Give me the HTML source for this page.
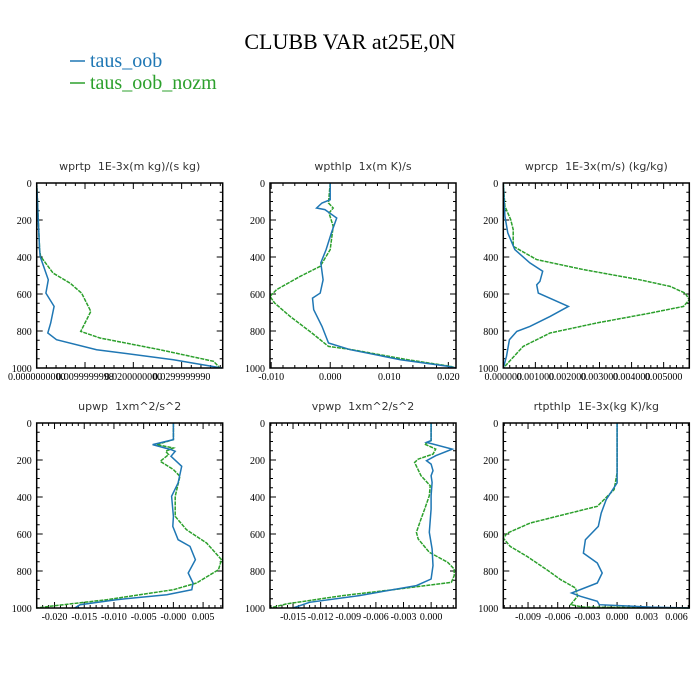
<!DOCTYPE html>
<html><head><meta charset="utf-8"><style>
body{margin:0;background:#fff;}
svg{display:block;}
text{font-family:"Liberation Serif",serif;}
.pt{font-family:"DejaVu Sans",sans-serif;font-size:11px;fill:#333;}
</style></head><body>
<svg id="chart" width="700" height="700" viewBox="0 0 700 700" xmlns="http://www.w3.org/2000/svg">
<rect width="700" height="700" fill="#fff"/>
<text x="350" y="49" font-size="22" text-anchor="middle" fill="#000">CLUBB VAR at25E,0N</text>
<g>
<line x1="70" y1="61" x2="85" y2="61" stroke="#1f77b4" stroke-width="1.5"/>
<text x="90" y="67" font-size="20" fill="#1f77b4">taus_oob</text>
<line x1="70" y1="83" x2="85" y2="83" stroke="#2ca02c" stroke-width="1.5"/>
<text x="90" y="89" font-size="20" fill="#2ca02c">taus_oob_nozm</text>
</g>
</svg>
<script>
// Panel titles
const titles = ["wprtp  1E-3x(m kg)/(s kg)","wpthlp  1x(m K)/s","wprcp  1E-3x(m/s) (kg/kg)","upwp  1xm^2/s^2","vpwp  1xm^2/s^2","rtpthlp  1E-3x(kg K)/kg"];
const xDomains = [[0,0.0385],[-0.0102,0.0213],[0,0.0058],[-0.023,0.0083],[-0.0175,0.0027],[-0.0115,0.0073]];
const xTickVals = [[0,0.01,0.02,0.03],[-0.01,0,0.01,0.02],[0,0.001,0.002,0.003,0.004,0.005],[-0.02,-0.015,-0.01,-0.005,0,0.005],[-0.015,-0.012,-0.009,-0.006,-0.003,0],[-0.009,-0.006,-0.003,0,0.003,0.006]];
const xTickLabels = [["0.0000000000","0.0099999998","0.0200000000","0.0299999990"],["-0.010","0.000","0.010","0.020"],["0.000000","0.001000","0.002000","0.003000","0.004000","0.005000"],["-0.020","-0.015","-0.010","-0.005","-0.000","0.005"],["-0.015","-0.012","-0.009","-0.006","-0.003","0.000"],["-0.009","-0.006","-0.003","0.000","0.003","0.006"]];
const yTickVals = [0,200,400,600,800,1000];
// Series: pressure levels and values
const p1b = [0,180,360,396,523,595,667,757,811,847,901,955,1000];
const v1b = [0,0.0003,0.0006,0.0007,0.0024,0.0019,0.0036,0.0029,0.0023,0.0041,0.0124,0.0283,0.0383];
const p1g = [0,360,396,487,541,595,694,757,802,838,901,964,991,1000];
const v1g = [0,0.0006,0.0008,0.0034,0.0069,0.0093,0.0112,0.0100,0.0091,0.0131,0.0255,0.0366,0.0376,0.0378];
const p2b = [0,90,108,135,144,189,270,360,432,523,595,622,685,775,865,901,955,991,1000];
const v2b = [0,0,-0.0014,-0.0023,-0.0009,0.0011,0.0002,-0.0007,-0.0016,-0.0012,-0.0017,-0.003,-0.0028,-0.0014,-0.0003,0.0034,0.0119,0.0199,0.0213];
const p2g = [0,108,135,162,234,360,450,505,577,613,649,721,811,883,901,955,991,1000];
const v2g = [0,-0.0003,0.0005,-0.0002,0.0005,0,-0.0017,-0.0051,-0.0091,-0.0102,-0.0094,-0.0068,-0.0031,-0.0003,0.0037,0.0131,0.0204,0.0213];
const p3b = [0,180,270,360,432,477,532,550,595,667,721,775,802,847,937,1000];
const v3b = [0,0.00005,0.00014,0.00036,0.00083,0.00123,0.00114,0.00104,0.00109,0.00203,0.00146,0.00083,0.00042,0.00019,0.0001,0];
const p3g = [0,126,198,252,342,414,468,523,559,595,631,667,703,757,811,883,1000];
const v3g = [0,0.00005,0.00023,0.00031,0.00031,0.00104,0.0025,0.00426,0.0052,0.00567,0.0058,0.00562,0.00458,0.00291,0.00146,0.00062,0];
const p4b = [0,90,117,144,153,180,234,324,396,505,559,631,667,739,811,865,901,928,955,982,1000];
const v4b = [0,0,-0.0035,-0.0004,0.0003,-0.0004,0.0014,0.0008,-0.0003,0,-0.0001,0.0008,0.0028,0.0037,0.0025,0.0033,0.0031,-0.0011,-0.0096,-0.0157,-0.0166];
const p4g = [0,90,117,135,153,171,207,252,288,396,505,577,649,739,793,865,901,955,991,1000];
const v4g = [0,0,-0.0028,0,-0.0013,-0.0008,-0.0022,0,0.0011,0.0003,0.0003,0.0022,0.0056,0.0081,0.0076,0.0039,0,-0.0112,-0.0208,-0.023];
const p5b = [0,95,105,141,177,204,222,258,285,321,393,465,591,681,771,843,879,933,969,1000];
const v5b = [0,0,-0.0005,0.0023,0.0005,-0.0005,0,0.0002,0,0.0001,0,0,-0.0002,0.0001,0.0002,0,-0.0016,-0.0078,-0.0132,-0.015];
const p5g = [0,95,114,141,168,195,213,285,339,393,465,519,591,627,699,753,789,825,861,897,933,978,1000];
const v5g = [0,0,-0.0007,0.0005,0.0002,-0.0014,-0.0018,-0.0011,-0.0001,-0.0002,-0.0007,-0.0011,-0.0016,-0.0014,-0.0002,0.0018,0.0025,0.0025,0.0022,-0.0034,-0.0096,-0.0157,-0.0175];
const p6b = [0,324,414,487,559,631,703,757,811,865,919,937,964,982,995,1000];
const v6b = [0,0,-0.0011,-0.0016,-0.0019,-0.0032,-0.0034,-0.002,-0.0015,-0.002,-0.0046,-0.0037,-0.002,-0.0018,0.0034,0.0073];
const p6g = [0,270,360,450,505,541,595,622,667,721,793,847,892,937,982,995,1000];
const v6g = [0,0,-0.0003,-0.002,-0.0061,-0.0088,-0.0111,-0.0115,-0.0108,-0.0091,-0.0071,-0.0057,-0.0042,-0.004,-0.0047,-0.0034,0.0073];
const blueP=[p1b,p2b,p3b,p4b,p5b,p6b], blueV=[v1b,v2b,v3b,v4b,v5b,v6b];
const greenP=[p1g,p2g,p3g,p4g,p5g,p6g], greenV=[v1g,v2g,v3g,v4g,v5g,v6g];

const svg=document.getElementById('chart');
const NS='http://www.w3.org/2000/svg';
const boxX=[36.7,270,503.3], boxY=[183,423], W=186, H=185;
function mk(tag,attrs,parent){const e=document.createElementNS(NS,tag);for(const k in attrs)e.setAttribute(k,attrs[k]);parent.appendChild(e);return e;}
for(let i=0;i<6;i++){
  const x0=boxX[i%3], y0=boxY[Math.floor(i/3)];
  const dom=xDomains[i];
  const sx=v=>x0+(v-dom[0])/(dom[1]-dom[0])*W;
  const sy=p=>y0+p/1000*H;
  const g=mk('g',{},svg);
  
  
  const t=mk('text',{x:x0+W/2,y:y0-13,'text-anchor':'middle','class':'pt'},g);
  
  
  t.textContent=titles[i].replace('  ','\u00a0\u00a0');
  // ticks
  let d='';
  for(let p=0;p<=1000;p+=50){const maj=p%200===0;const L=maj?6:3;const y=sy(p);d+=`M${x0},${y}h${L}M${x0+W},${y}h${-L}`;}
  const tv=xTickVals[i];const step=tv[1]-tv[0];
  for(let k=-2;k<tv.length+2;k++){
    for(let m=0;m<5;m++){
      const v=tv[0]+(k+m/5)*step; if(v<dom[0]-1e-12||v>dom[1]+1e-12)continue;
      const x=sx(v);const L=m===0?6:3;d+=`M${x},${y0}v${L}M${x},${y0+H}v${-L}`;
    }
  }
  const tk=mk('path',{d:d,stroke:'#000','stroke-width':1,fill:'none'},g);
  
  
  yTickVals.forEach(p=>{const e=mk('text',{x:x0-5,y:sy(p)+4,'font-size':10,'text-anchor':'end'},g);
    
    
    e.textContent=p;});
  tv.forEach((v,j)=>{const e=mk('text',{x:sx(v),y:y0+H+12,'font-size':10,'text-anchor':'middle'},g);
    
    
    e.textContent=xTickLabels[i][j];});
  const mkLine=(P,V,col,dash,name)=>{
    const pts=P.map((p,j)=>sx(V[j]).toFixed(1)+','+sy(p).toFixed(1)).join(' ');
    const l=mk('polyline',{points:pts,fill:'none',stroke:col,'stroke-width':1.5},g);
    if(dash)l.setAttribute('stroke-dasharray','4,1');
    
    
  };
  mkLine(greenP[i],greenV[i],'#2ca02c',true,'series-taus-oob-nozm');
  mkLine(blueP[i],blueV[i],'#1f77b4',false,'series-taus-oob');
  const b=mk('rect',{x:x0,y:y0,width:W,height:H,fill:'none',stroke:'#000','stroke-width':1.5},g);
  
  
}
</script>
</body></html>
